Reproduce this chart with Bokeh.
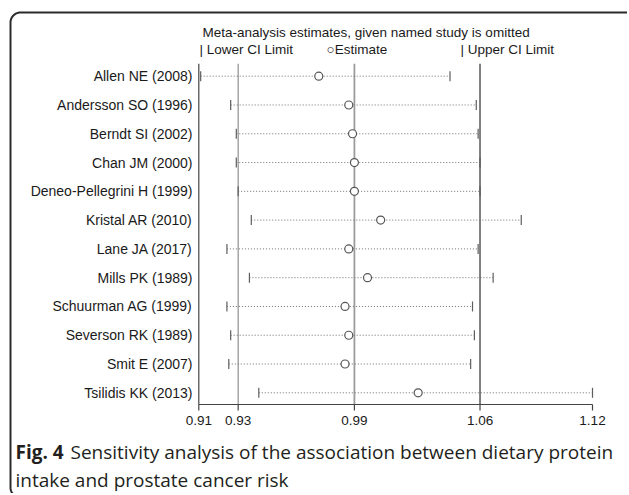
import numpy as np
from bokeh.plotting import figure
from bokeh.models import Range1d
from bokeh.core.properties import value
from bokeh.embed import file_html
from bokeh.resources import INLINE

# ---------------- data ----------------
studies = ["Allen NE (2008)", "Andersson SO (1996)", "Berndt SI (2002)", "Chan JM (2000)",
           "Deneo-Pellegrini H (1999)", "Kristal AR (2010)", "Lane JA (2017)", "Mills PK (1989)",
           "Schuurman AG (1999)", "Severson RK (1989)", "Smit E (2007)", "Tsilidis KK (2013)"]
estimate = [0.974, 0.990, 0.992, 0.993, 0.993, 1.007, 0.990, 1.000, 0.988, 0.990, 0.988, 1.027]
lower = [0.911, 0.927, 0.930, 0.930, 0.931, 0.938, 0.925, 0.937, 0.925, 0.927, 0.926, 0.942]
upper = [1.044, 1.058, 1.059, 1.060, 1.060, 1.082, 1.059, 1.067, 1.056, 1.057, 1.055, 1.120]

pooled = [0.931, 0.993, 1.060]          # lower CI, estimate, upper CI of the full meta-analysis
x_ticks = [0.910, 0.931, 0.993, 1.060, 1.120]
x_tick_labels = ["0.91", "0.93", "0.99", "1.06", "1.12"]

title_text = "Meta-analysis estimates, given named study is omitted"
legend_texts = ["| Lower CI Limit", "\u25cbEstimate", "| Upper CI Limit"]
caption_bold = "Fig. 4"
caption_line1 = "Sensitivity analysis of the association between dietary protein"
caption_line2 = "intake and prostate cancer risk"

# ---------------- layout (pixels) ----------------
W, H = 627, 493
PX_X0, PX_X1 = 198.3, 592.0        # where the first / last tick sit
PX_ROW_TOP, PX_ROW_BOT = 75.7, 392.3
PX_PLOT_TOP, PX_AXIS = 63.3, 404.0

n = len(studies)
rows = [n - i for i in range(n)]
x_lo, x_hi = x_ticks[0], x_ticks[-1]
sx = (PX_X1 - PX_X0) / (x_hi - x_lo)
sy = (PX_ROW_BOT - PX_ROW_TOP) / (n - 1)
x_range = Range1d(x_lo - PX_X0 / sx, x_hi + (W - PX_X1) / sx)
y_range = Range1d(1 - (H - PX_ROW_BOT) / sy, n + PX_ROW_TOP / sy)
plot_top = n + (PX_ROW_TOP - PX_PLOT_TOP) / sy
axis_y = 1 - (PX_AXIS - PX_ROW_BOT) / sy

FONT = value("Liberation Sans")
TXT = "#1a1a1a"

p = figure(width=W, height=H, output_backend="svg", toolbar_location=None,
           x_range=x_range, y_range=y_range, min_border=0,
           x_axis_location=None, y_axis_location=None,
           background_fill_color="white", border_fill_color="white")
p.grid.visible = False
p.outline_line_color = None
p.extra_x_ranges = {"px": Range1d(0, W)}
p.extra_y_ranges = {"px": Range1d(H, 0)}   # pixel space, y grows downward

# pooled reference lines
p.segment(x0=pooled, x1=pooled, y0=[axis_y] * 3, y1=[plot_top] * 3,
          line_color=["#8f8f8f", "#9c9c9c", "#3c3c3c"], line_width=[1.2, 1.8, 1.3])

# axis lines (left and bottom), ticks and tick labels
p.segment(x0=[x_lo, x_lo], x1=[x_lo, x_hi], y0=[axis_y, axis_y], y1=[plot_top, axis_y],
          line_color="#444444", line_width=1.2)
p.segment(x0=x_ticks, x1=x_ticks, y0=[PX_AXIS] * len(x_ticks), y1=[PX_AXIS + 6] * len(x_ticks),
          y_range_name="px", line_color="#444444", line_width=1.2)
p.text(x=x_ticks, y=[420] * len(x_ticks), text=x_tick_labels, y_range_name="px",
       text_font=FONT, text_font_size=value("13.5px"), text_color=TXT,
       text_align="center", text_baseline="middle")

# study names
p.text(x=[192] * n, y=rows, text=studies, x_range_name="px",
       text_font=FONT, text_font_size=value("14px"), text_color=TXT,
       text_align="right", text_baseline="middle")

# CI lines, caps, estimates
p.segment(x0=lower, y0=rows, x1=upper, y1=rows, line_color="#6e6e6e",
          line_width=1, line_dash="1 2")
p.scatter(x=lower, y=rows, marker="dash", angle=np.pi / 2, size=10,
          line_color="#5e5e5e", line_width=1.2)
p.scatter(x=upper, y=rows, marker="dash", angle=np.pi / 2, size=10,
          line_color="#5e5e5e", line_width=1.2)
p.scatter(x=estimate, y=rows, marker="circle", size=8, fill_color="white",
          line_color="#555555", line_width=1.2)

# header
p.text(x=[202], y=[32], text=[title_text], x_range_name="px", y_range_name="px",
       text_font=FONT, text_font_size=value("13.5px"), text_color=TXT,
       text_baseline="middle")
p.text(x=[199, 326, 460], y=[49] * 3, text=legend_texts, x_range_name="px", y_range_name="px",
       text_font=FONT, text_font_size=value("13.5px"), text_color=TXT,
       text_baseline="middle")

# caption
CAP_FONT = value("Open Sans")
p.text(x=[15], y=[451], text=[caption_bold], x_range_name="px", y_range_name="px",
       text_font=CAP_FONT, text_font_style="bold", text_font_size=value("19px"),
       text_color="#231f20", text_baseline="middle")
p.text(x=[15 + 55, 15], y=[451, 479], text=[caption_line1, caption_line2],
       x_range_name="px", y_range_name="px",
       text_font=CAP_FONT, text_font_size=value("19px"),
       text_color="#231f20", text_baseline="middle")

# rounded panel frame (its right and bottom edges fall outside the picture)
R = 10
L, T, RT, B = 10, 12, 636, 497
def arc(cx, cy, t0, t1):
    t = np.radians(np.linspace(t0, t1, 12))
    return cx + R * np.cos(t), cy + R * np.sin(t)
bl = arc(L + R, B - R, 90, 180)
tl = arc(L + R, T + R, 180, 270)
tr = arc(RT - R, T + R, 270, 360)
path_x = np.concatenate([[RT], bl[0], tl[0], tr[0], [RT]])
path_y = np.concatenate([[B], bl[1], tl[1], tr[1], [B]])
p.line(x=path_x, y=path_y, x_range_name="px", y_range_name="px",
       line_color="#2b2b2b", line_width=2)

open("out.html", "w").write(file_html(p, INLINE))
